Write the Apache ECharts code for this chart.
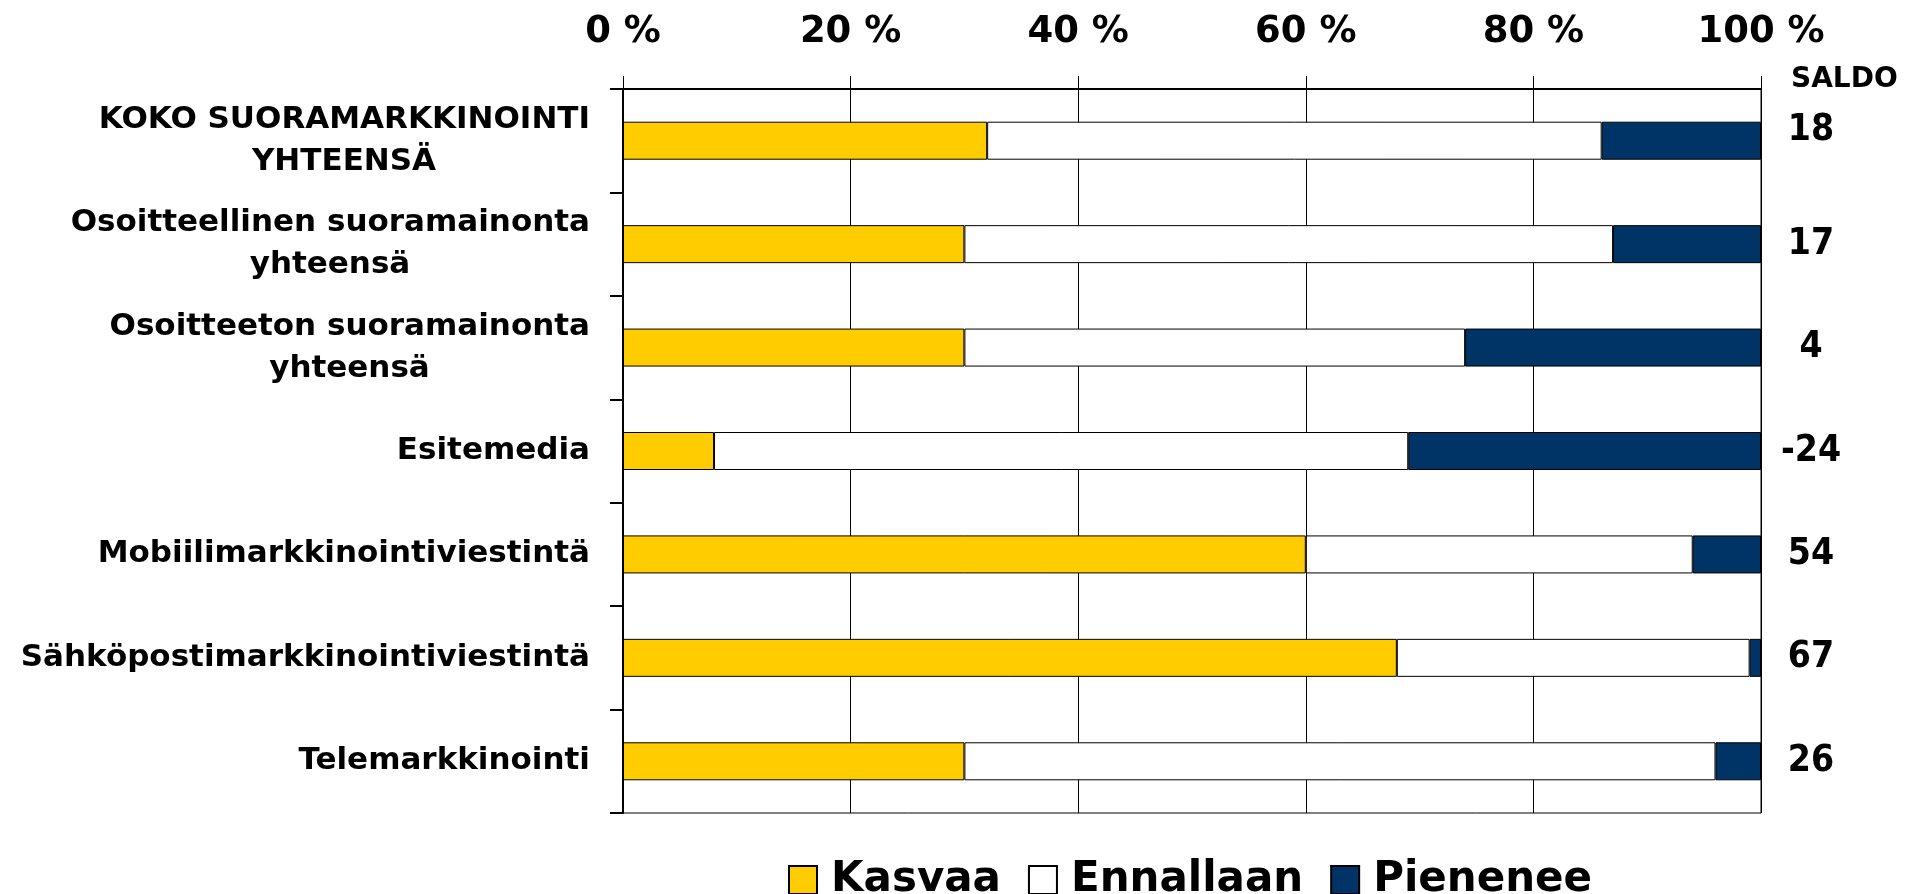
<!DOCTYPE html>
<html>
<head>
<meta charset="utf-8">
<script src="https://cdn.jsdelivr.net/npm/echarts@6/dist/echarts.min.js"></script>
<style>
  html, body { margin: 0; padding: 0; background: #fff; }
  #chart_1 { width: 1921px; height: 894px; }
</style>
</head>
<body>
<div id="chart_1"></div>
<script>
var categories = [
  'KOKO SUORAMARKKINOINTI\nYHTEENSÄ',
  'Osoitteellinen suoramainonta\nyhteensä',
  'Osoitteeton suoramainonta\nyhteensä',
  'Esitemedia',
  'Mobiilimarkkinointiviestintä',
  'Sähköpostimarkkinointiviestintä',
  'Telemarkkinointi'
];
var kasvaa = [32, 30, 30, 8, 60, 68, 30];
var ennallaan = [54, 57, 44, 61, 34, 31, 66];
var pienenee = [14, 13, 26, 31, 6, 1, 4];
var saldo = ['18', '17', '4', '-24', '54', '67', '26'];
var xTicks = [0, 20, 40, 60, 80, 100];

var labelFont = '"DejaVu Sans", sans-serif';
var narrowFont = '"Liberation Sans Narrow", "Arial Narrow", "DejaVu Sans Condensed", sans-serif';

// measure first line so the second line can be centred under it
var cv = document.createElement('canvas').getContext('2d');
cv.font = 'bold 31px "DejaVu Sans", sans-serif';
var rich = { t: { fontSize: 31, fontWeight: 'bold', fontFamily: labelFont, color: '#000', lineHeight: 42 } };
categories.forEach(function (c, i) {
  var parts = c.split('\n');
  if (parts.length > 1) {
    rich['c' + i] = {
      fontSize: 31, fontWeight: 'bold', fontFamily: labelFont, color: '#000', lineHeight: 42,
      width: Math.ceil(cv.measureText(parts[0]).width), align: 'center'
    };
  }
});

// first saldo sits a little higher in the original
var saldoData = saldo.map(function (s, i) {
  return i === 0 ? { value: s, textStyle: { align: 'center', verticalAlign: 'bottom', lineHeight: 20 } } : s;
});

var dom = document.getElementById('chart_1');
var myChart = echarts.init(dom);

var barBorder = { borderColor: '#000', borderWidth: 1 };

var option = {
  backgroundColor: '#ffffff',
  animation: false,
  title: {
    text: 'SALDO',
    left: 1791,
    top: 66,
    padding: 0,
    textStyle: { fontSize: 28, fontWeight: 'bold', fontFamily: labelFont, color: '#000', lineHeight: 28 }
  },
  legend: {
    left: 783,
    top: 854,
    icon: 'rect',
    itemWidth: 28,
    itemHeight: 28,
    itemGap: 27,
    itemTextGap: 14,
    textStyle: { fontSize: 42, fontWeight: 'bold', fontFamily: labelFont, color: '#000', padding: [0, 0, 0, 9] },
    data: ['Kasvaa', 'Ennallaan', 'Pienenee']
  },
  grid: {
    left: 623, right: 160, top: 89, bottom: 81,
    show: true, borderColor: '#000', borderWidth: 1
  },
  xAxis: {
    type: 'value',
    position: 'top',
    min: 0,
    max: 100,
    interval: 20,
    axisLine: { show: true, lineStyle: { color: '#000', width: 2 } },
    axisTick: { show: true, length: 13, lineStyle: { color: '#000', width: 1 } },
    axisLabel: {
      margin: 38,
      formatter: function (v) { return xTicks.indexOf(v) >= 0 ? v + ' %' : ''; },
      fontSize: 37, fontWeight: 'bold', fontFamily: labelFont, color: '#000'
    },
    splitLine: { show: true, lineStyle: { color: '#000', width: 1 } }
  },
  yAxis: [
    {
      type: 'category',
      inverse: true,
      data: categories,
      axisLine: { show: true, lineStyle: { color: '#000', width: 2 } },
      axisTick: { show: true, length: 13, interval: 0, lineStyle: { color: '#000', width: 2 } },
      axisLabel: {
        margin: 33,
        interval: 0,
        formatter: function (v, i) {
          var parts = v.split('\n');
          if (parts.length > 1) return '{t|' + parts[0] + '}\n{c' + i + '|' + parts[1] + '}';
          return '{t|' + v + '}';
        },
        rich: rich
      }
    },
    {
      type: 'category',
      inverse: true,
      position: 'right',
      data: saldoData,
      axisLine: { show: false },
      axisTick: { show: false },
      axisLabel: {
        margin: 50,
        align: 'center',
        interval: 0,
        fontSize: 37, fontWeight: 'bold', fontFamily: narrowFont, color: '#000'
      }
    }
  ],
  series: [
    {
      name: 'Kasvaa', type: 'bar', stack: 'total', barWidth: 38,
      itemStyle: Object.assign({ color: '#FFCC00' }, barBorder),
      data: kasvaa
    },
    {
      name: 'Ennallaan', type: 'bar', stack: 'total', barWidth: 38,
      itemStyle: Object.assign({ color: '#FFFFFF' }, barBorder),
      data: ennallaan
    },
    {
      name: 'Pienenee', type: 'bar', stack: 'total', barWidth: 38,
      itemStyle: Object.assign({ color: '#003366' }, barBorder),
      data: pienenee
    }
  ]
};

if (option && typeof option === 'object') {
  myChart.setOption(option, true);
}
</script>
</body>
</html>
